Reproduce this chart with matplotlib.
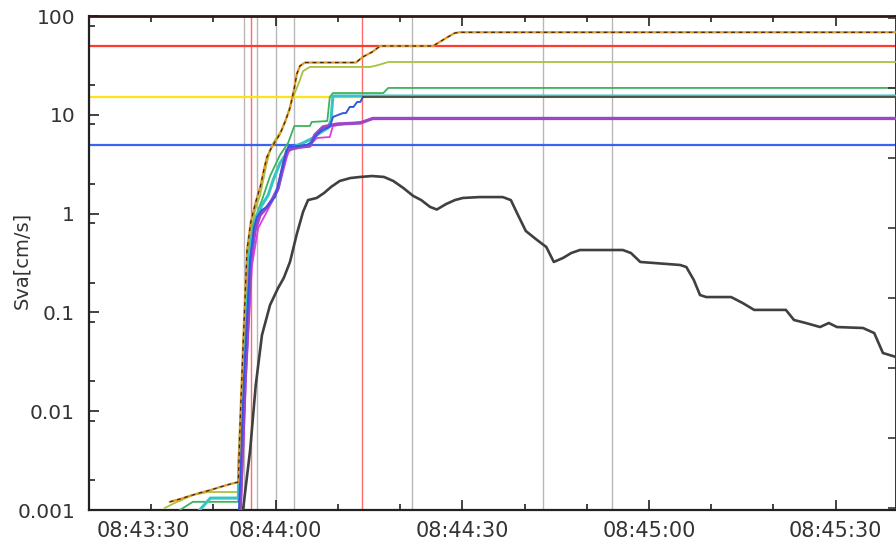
import matplotlib
matplotlib.use("Agg")
import matplotlib.pyplot as plt
import matplotlib.transforms as mtransforms
from matplotlib.ticker import LogLocator, FixedLocator, NullFormatter

# --------------------------------------------------------------
# data (time = seconds after 08:43:30)
# --------------------------------------------------------------
x_ticks = [0, 30, 60, 90, 120]
x_labels = ["08:43:30", "08:44:00", "08:44:30", "08:45:00", "08:45:30"]
y_ticks = [0.001, 0.01, 0.1, 1, 10, 100]
y_labels = ["0.001", "0.01", "0.1", "1", "10", "100"]

thresholds = [50, 15, 5]
threshold_colors = ["#ff3b30", "#ffe21a", "#3a64f0"]

vlines_gray = [24.9, 27.0, 30.0, 33.0, 51.9, 73.0, 84.0]
vlines_red = [26.0, 43.9]

orange_t = [13.0, 14.6, 16.2, 17.8, 19.5, 21.1, 22.7, 24.0, 24.3, 24.8, 25.4, 26.0, 26.8,
            27.6, 28.1, 28.6, 29.3, 29.9, 30.7, 31.5, 32.3, 33.0, 33.4, 33.9, 34.7, 42.9,
            44.0, 45.5, 46.8, 55.3, 57.4, 58.8, 59.6, 129.7]
orange_v = [0.00121, 0.00129, 0.00139, 0.00149, 0.00159, 0.00171, 0.00183, 0.00192, 0.00815,
            0.0526, 0.428, 0.822, 1.31, 1.95, 2.76, 3.74, 4.61, 5.31, 6.40, 8.46, 11.7, 18.7,
            25.9, 31.2, 33.8, 33.8, 38.5, 43.2, 49.7, 49.7, 59.9, 67.3, 68.4, 68.4]

olive_t = [12.2, 13.8, 16.7, 19.1, 24.0, 24.3, 24.9, 25.7, 26.7, 27.5, 28.5, 29.1, 29.7,
           31.0, 32.0, 32.6, 33.4, 33.9, 34.4, 35.5, 45.2, 46.5, 48.1, 129.7]
olive_v = [0.00105, 0.00118, 0.00142, 0.00152, 0.00152, 0.00512, 0.0664, 0.481, 1.09, 1.54,
           3.10, 4.40, 5.31, 7.02, 10.4, 14.1, 18.7, 22.5, 27.7, 30.5, 30.5, 31.9, 34.2, 34.2]

green_t = [14.6, 16.7, 24.0, 24.3, 24.9, 25.7, 26.4, 27.2, 27.8, 29.1, 30.7, 32.0, 33.0,
           35.5, 35.8, 38.3, 38.7, 39.2, 47.3, 48.1, 129.7]
green_v = [0.001, 0.00121, 0.00121, 0.00405, 0.0526, 0.339, 0.767, 1.09, 1.37, 2.40, 3.92,
           5.19, 7.70, 7.70, 8.46, 8.65, 15.1, 16.6, 16.6, 18.7, 18.7]

cyan_t = [17.8, 19.5, 24.0, 24.1, 24.8, 25.6, 26.2, 27.0, 27.8, 28.8, 29.6, 30.7, 31.8,
          32.8, 34.4, 36.0, 37.1, 38.4, 38.9, 39.2, 129.7]
cyan_v = [0.001, 0.00132, 0.00132, 0.0032, 0.0207, 0.339, 0.607, 0.968, 1.22, 1.54, 2.19,
          3.25, 4.10, 4.72, 5.19, 5.82, 6.55, 7.35, 8.86, 15.5, 15.5]

blue_t = [24.1, 24.9, 25.9, 26.5, 27.0, 27.8, 28.6, 29.4, 29.9, 30.7, 31.5, 32.0, 35.0,
          35.8, 36.6, 37.5, 38.7, 39.2, 40.8, 41.3, 41.9, 42.5, 43.1, 43.6, 44.0]
blue_v = [0.001, 0.0207, 0.339, 0.715, 0.924, 1.09, 1.17, 1.37, 1.47, 2.35, 3.74, 4.72,
          4.95, 5.31, 6.25, 7.02, 7.53, 9.5, 10.4, 10.4, 12.0, 12.0, 13.5, 13.5, 15.0]

gray_t = [44.0, 129.7]
gray_v = [15.0, 15.0]

purple_t = [24.3, 25.1, 26.0, 26.7, 27.5, 28.5, 29.4, 30.4, 31.2, 31.8, 33.9, 35.5, 36.3,
            37.6, 39.9, 43.6, 45.6, 129.7]
purple_v = [0.001, 0.0207, 0.339, 0.682, 0.968, 1.14, 1.37, 1.82, 3.10, 4.40, 4.72, 4.83,
            6.25, 7.53, 8.07, 8.26, 9.18, 9.18]

magenta_t = [24.4, 25.2, 26.2, 27.2, 28.3, 30.4, 31.8, 32.3, 35.0, 36.0, 36.6, 38.7, 39.2,
             41.1, 43.6, 45.6, 129.7]
magenta_v = [0.001, 0.0207, 0.302, 0.715, 0.968, 1.73, 3.74, 4.61, 4.72, 5.31, 5.82, 5.96,
             7.70, 8.07, 8.46, 9.06, 9.06]

black_t = [24.75, 25.9, 26.8, 27.8, 29.1, 30.4, 31.3, 32.3, 33.4, 34.4, 35.2, 36.6, 37.8,
           38.9, 40.3, 42.0, 43.6, 45.5, 47.4, 48.9, 50.5, 52.1, 53.4, 54.8, 55.9, 57.4,
           58.8, 60.1, 62.8, 66.5, 67.8, 68.8, 70.2, 72.0, 73.5, 74.7, 76.2, 77.5, 78.9,
           85.8, 87.1, 88.6, 95.0, 96.0, 97.2, 98.2, 99.2, 103.2, 105.1, 106.9, 112.0,
           113.3, 115.2, 117.5, 118.9, 120.2, 124.4, 126.2, 127.6, 129.7]
black_v = [0.001, 0.00405, 0.0184, 0.059, 0.119, 0.177, 0.223, 0.324, 0.622, 1.04, 1.37,
           1.44, 1.62, 1.86, 2.14, 2.29, 2.35, 2.40, 2.35, 2.14, 1.82, 1.51, 1.37, 1.17,
           1.10, 1.25, 1.37, 1.44, 1.47, 1.47, 1.37, 1.01, 0.667, 0.541, 0.459, 0.324,
           0.356, 0.399, 0.428, 0.428, 0.399, 0.324, 0.302, 0.288, 0.213, 0.150, 0.143,
           0.143, 0.124, 0.106, 0.106, 0.0838, 0.0781, 0.0711, 0.0781, 0.0711, 0.0695,
           0.0618, 0.0388, 0.0354]

# --------------------------------------------------------------
# figure
# --------------------------------------------------------------
fig = plt.figure(figsize=(8.96, 5.45), dpi=100)
ax = fig.add_axes([89 / 896, 1 - 510 / 545, 1 - 89 / 896, (510 - 16) / 545])
ax.set_yscale("log")
ax.set_xlim(0, 129.7)
ax.set_ylim(0.001, 100)

for xv in vlines_gray:
    ax.axvline(xv, color="#b8b8b8", lw=1.0, zorder=1)
for xv in vlines_red:
    ax.axvline(xv, color="#ff6a6a", lw=1.0, zorder=1)
for yv, c in zip(thresholds, threshold_colors):
    ax.axhline(yv, color=c, lw=1.6, zorder=2)

ax.plot(black_t, black_v, color="#404040", lw=1.9, zorder=3)
ax.plot(olive_t, olive_v, color="#a6c244", lw=1.3, zorder=4)
ax.plot(green_t, green_v, color="#3cb35c", lw=1.3, zorder=4)
ax.plot(cyan_t, cyan_v, color="#38c4c4", lw=2.2, zorder=4)
ax.plot(magenta_t, magenta_v, color="#e03ce0", lw=1.3, zorder=4)
ax.plot(purple_t, purple_v, color="#9a48c8", lw=2.4, zorder=5)
ax.plot(blue_t, blue_v, color="#3456e0", lw=1.4, zorder=5)
ax.plot(gray_t, gray_v, color="#4a4a4a", lw=1.3, zorder=5)
ax.plot(orange_t, orange_v, color="#e49a28", lw=1.6, zorder=6)
ax.plot(orange_t, orange_v, color="#3a2a14", lw=0.9, dashes=(3, 3), zorder=7)

# axes styling
ax.set_xticks(x_ticks)
ax.set_xticklabels(x_labels)
ax.xaxis.set_minor_locator(FixedLocator(range(10, 130, 10)))
ax.set_yticks(y_ticks)
ax.set_yticklabels(y_labels)
ax.yaxis.set_minor_locator(LogLocator(base=10, subs=(2.0, 8.0)))
ax.yaxis.set_minor_formatter(NullFormatter())

ax.tick_params(axis="x", which="both", direction="in", top=True, bottom=True,
               labelsize=15, pad=8, colors="#222222")
ax.tick_params(axis="x", labelcolor="#333333")
ax.tick_params(axis="y", which="both", direction="in", left=True, right=False,
               labelsize=14.5, pad=10, colors="#222222")
ax.tick_params(axis="y", labelcolor="#333333")
ax.tick_params(which="major", length=7, width=1.2)
ax.tick_params(which="minor", length=4, width=1.2)

# first time label sits right of its tick
lbl0 = ax.get_xticklabels()[0]
lbl0.set_horizontalalignment("left")
lbl0.set_transform(lbl0.get_transform() + mtransforms.ScaledTranslation(8 / 100, 0, fig.dpi_scale_trans))

for s in ["left", "bottom"]:
    ax.spines[s].set_linewidth(1.6)
    ax.spines[s].set_color("#222222")
ax.spines["top"].set_linewidth(2.0)
ax.spines["top"].set_color("#2e1818")
ax.spines["right"].set_linewidth(1.4)
ax.spines["right"].set_color("#333333")

ax.set_ylabel("Sva[cm/s]", fontsize=14, color="#333333")
ax.yaxis.set_label_coords(-58 / 807, 0.505)

# right-hand axis ticks (no labels)
ax2 = ax.twinx()
ax2.set_ylim(-2 / 70, -2 / 70 + 494 / 70)
ax2.set_yticks(range(0, 8))
ax2.tick_params(axis="y", direction="in", length=6, width=1.2, labelright=False, colors="#333333")
for s in ax2.spines.values():
    s.set_visible(False)

fig.savefig("out.png", dpi=100)
